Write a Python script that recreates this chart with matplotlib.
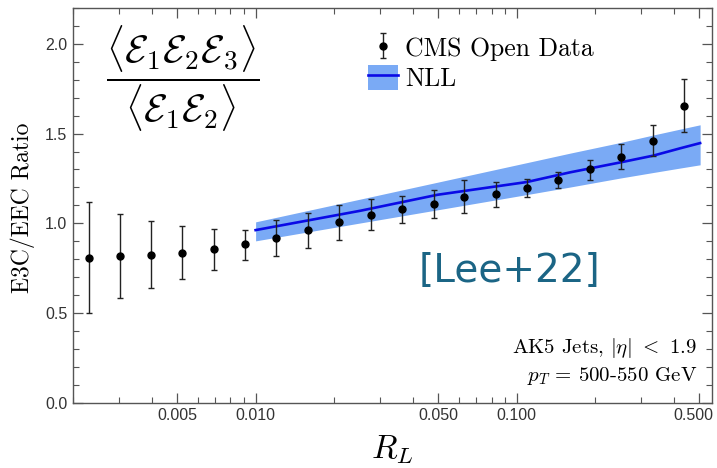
import numpy as np
import matplotlib
matplotlib.use("Agg")
import matplotlib.pyplot as plt
import matplotlib.transforms as mtransforms
from matplotlib.patches import Patch
from matplotlib.lines import Line2D
from matplotlib.ticker import FixedLocator, FixedFormatter, MultipleLocator, NullFormatter, LogLocator

plt.rcParams['mathtext.fontset'] = 'cm'

# CMS open data points
r_l = [0.00230, 0.00302, 0.00399, 0.00525, 0.00693, 0.00914, 0.0120, 0.0158, 0.0209, 0.0276,
       0.0363, 0.0480, 0.0630, 0.0831, 0.1092, 0.1443, 0.1907, 0.2513, 0.3313, 0.4355]
ratio = [0.807, 0.817, 0.826, 0.837, 0.856, 0.882, 0.917, 0.960, 1.007, 1.047,
         1.079, 1.109, 1.149, 1.163, 1.196, 1.243, 1.300, 1.371, 1.460, 1.656]
ratio_hi = [1.116, 1.053, 1.010, 0.984, 0.967, 0.962, 1.020, 1.059, 1.103, 1.137,
            1.150, 1.183, 1.241, 1.232, 1.248, 1.287, 1.354, 1.440, 1.546, 1.802]
ratio_lo = [0.500, 0.583, 0.642, 0.692, 0.742, 0.798, 0.815, 0.863, 0.908, 0.960,
            1.004, 1.029, 1.060, 1.090, 1.144, 1.196, 1.244, 1.302, 1.377, 1.511]

# NLL curve and band
nll_x = [0.0100, 0.0252, 0.0497, 0.1092, 0.1599, 0.2484, 0.3325, 0.4219, 0.503]
nll_mid = [0.962, 1.070, 1.159, 1.230, 1.284, 1.339, 1.377, 1.418, 1.447]
nll_lo = [0.902, 1.002, 1.075, 1.160, 1.202, 1.252, 1.283, 1.308, 1.326]
nll_hi = [1.008, 1.135, 1.229, 1.338, 1.391, 1.450, 1.492, 1.525, 1.549]

xticks = [0.005, 0.01, 0.05, 0.1, 0.5]
xticklabels = ['0.005', '0.010', '0.050', '0.100', '0.500']

W, H = 717, 468
fig = plt.figure(figsize=(W / 100, H / 100), dpi=100)
ax = fig.add_axes([73 / W, (H - 402.7) / H, (711.7 - 73) / W, (402.7 - 8) / H])

band_col = '#7aaaf5'
line_col = '#0a0ae6'

ax.fill_between(nll_x, nll_lo, nll_hi, color=band_col, lw=0, zorder=1)
ax.plot(nll_x, nll_mid, color=line_col, lw=1.9, zorder=2)

y = np.array(ratio)
yerr = [y - np.array(ratio_lo), np.array(ratio_hi) - y]
eb = ax.errorbar(r_l, ratio, yerr=yerr, fmt='o', color='black', ms=5, ecolor='#222222',
                 elinewidth=1.0, capsize=2.5, capthick=1.0, zorder=3)

ax.set_xscale('log')
ax.set_xlim(0.002, 0.557)
ax.set_ylim(0, 2.2)

ax.xaxis.set_major_locator(FixedLocator(xticks))
ax.xaxis.set_major_formatter(FixedFormatter(xticklabels))
ax.xaxis.set_minor_locator(LogLocator(base=10, subs=np.arange(2, 10)))
ax.xaxis.set_minor_formatter(NullFormatter())
ax.yaxis.set_major_locator(FixedLocator([0, 0.5, 1.0, 1.5, 2.0]))
ax.yaxis.set_major_formatter(FixedFormatter(['0.0', '0.5', '1.0', '1.5', '2.0']))
ax.yaxis.set_minor_locator(MultipleLocator(0.1))

ax.tick_params(which='both', direction='in', top=True, right=True, colors='#555555',
               labelcolor='#333333', labelsize=11.5, pad=4)
ax.tick_params(which='major', length=7, width=0.9)
ax.tick_params(which='minor', length=4, width=0.8)
for lab in ax.get_xticklabels() + ax.get_yticklabels():
    lab.set_fontfamily('Liberation Sans')
for s in ax.spines.values():
    s.set_color('#555555')
    s.set_linewidth(1.0)

# nudge the last x tick label so it stays inside the picture
last = ax.xaxis.get_major_ticks()[-1].label1
last.set_transform(last.get_transform() + mtransforms.ScaledTranslation(-6 / 100, 0, fig.dpi_scale_trans))

# labels
fig.text(23 / W, 1 - 207.5 / H, 'E3C/EEC Ratio', rotation=90, ha='center', va='center',
         fontfamily='cmr10', fontsize=17)
fig.text(392 / W, 1 - 450 / H, r'$R_L$', ha='center', va='center', fontsize=24)

fig.text(183 / W, 1 - 79 / H,
         r'$\dfrac{\langle\mathcal{E}_1\mathcal{E}_2\mathcal{E}_3\rangle}{\langle\mathcal{E}_1\mathcal{E}_2\rangle}$',
         ha='center', va='center', fontsize=28)

fig.text(697 / W, 1 - 348 / H, r'AK5 Jets, $|\eta|$ $<$ 1.9', ha='right', va='center',
         fontfamily='cmr10', fontsize=15)
fig.text(697 / W, 1 - 376 / H, r'$p_T$ = 500-550 GeV', ha='right', va='center',
         fontfamily='cmr10', fontsize=15)

fig.text(509 / W, 1 - 271 / H, '[Lee+22]', ha='center', va='center', color='#1b6585',
         fontfamily='DejaVu Sans', fontsize=28)

handles = [eb, (Patch(facecolor=band_col, lw=0), Line2D([], [], color=line_col, lw=1.9))]
ax.legend(handles, ['CMS Open Data', 'NLL'], loc='upper left',
          bbox_to_anchor=(368 / W, 1 - 35 / H), bbox_transform=fig.transFigure,
          frameon=False, prop={'family': 'cmr10', 'size': 18.5}, handlelength=1.15,
          handleheight=1.1, handletextpad=0.3, labelspacing=0.15, borderpad=0, borderaxespad=0)

fig.savefig('out.png', dpi=100)
